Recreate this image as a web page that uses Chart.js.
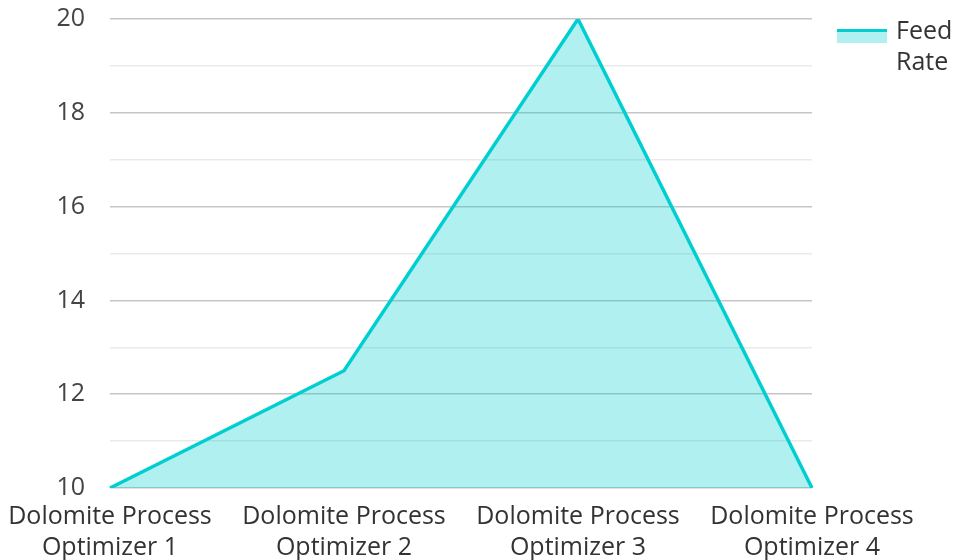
<!DOCTYPE html>
<html>
<head>
<meta charset="utf-8">
<script src="https://cdn.jsdelivr.net/npm/chart.js@4"></script>
<style>
  html, body { margin: 0; padding: 0; background: #ffffff; }
  #wrap { width: 953px; height: 560px; }
</style>
</head>
<body>
<div id="wrap"><canvas id="c" width="953" height="560"></canvas></div>
<script>
const categories = [
  ['Dolomite Process', 'Optimizer 1'],
  ['Dolomite Process', 'Optimizer 2'],
  ['Dolomite Process', 'Optimizer 3'],
  ['Dolomite Process', 'Optimizer 4']
];
const feedRate = [10, 12.5, 20, 10];
const seriesName = ['Feed', 'Rate'];
const yTicks = [10, 12, 14, 16, 18, 20];

const lineColor = 'rgb(0, 206, 209)';
const fillColor = 'rgba(0, 206, 209, 0.31)';
const fontFamily = '"Open Sans", "Noto Sans", sans-serif';

// Legend drawn to the right of the plot, with the name split over two lines
const sideLegend = {
  id: 'sideLegend',
  afterDraw(chart) {
    const ctx = chart.ctx;
    const x0 = 837, w = 50, y0 = 29;
    ctx.save();
    ctx.fillStyle = fillColor;
    ctx.fillRect(x0, y0, w, 14);
    ctx.fillStyle = lineColor;
    ctx.fillRect(x0, y0, w, 3);
    ctx.fillStyle = '#333333';
    ctx.font = '25px ' + fontFamily;
    ctx.textBaseline = 'middle';
    ctx.textAlign = 'left';
    seriesName.forEach((t, i) => ctx.fillText(t, 896, 32 + i * 31));
    ctx.restore();
  }
};

new Chart(document.getElementById('c'), {
  type: 'line',
  data: {
    labels: categories,
    datasets: [{
      label: seriesName.join(' '),
      data: feedRate,
      borderColor: lineColor,
      backgroundColor: fillColor,
      borderWidth: 3.5,
      fill: 'origin',
      pointRadius: 0,
      tension: 0
    }]
  },
  options: {
    responsive: false,
    animation: false,
    layout: { padding: { top: 0, right: 141, left: 12, bottom: 0 } },
    plugins: {
      legend: { display: false },
      tooltip: { enabled: false }
    },
    scales: {
      x: {
        offset: false,
        grid: { display: false },
        border: { display: false },
        afterFit: s => { s.height -= 8; },
        ticks: {
          color: '#333333',
          font: { family: fontFamily, size: 25, lineHeight: 1.24 },
          maxRotation: 0,
          autoSkip: false,
          padding: 5
        }
      },
      y: {
        min: 10,
        max: 20,
        border: { display: false },
        afterFit: s => { s.width = 98; },
        grid: {
          drawTicks: true,
          tickLength: 21,
          tickColor: 'rgba(0,0,0,0)',
          lineWidth: 1.5,
          color: c => (c.tick && c.tick.value % 2 === 0) ? '#c6c6c6' : '#eaeaea'
        },
        afterBuildTicks: axis => {
          axis.ticks = [];
          for (let v = 10; v <= 20; v++) axis.ticks.push({ value: v });
        },
        ticks: {
          color: '#444444',
          font: { family: fontFamily, size: 25 },
          padding: 4,
          callback: v => yTicks.includes(v) ? String(v) : ''
        }
      }
    }
  },
  plugins: [sideLegend]
});
</script>
</body>
</html>
